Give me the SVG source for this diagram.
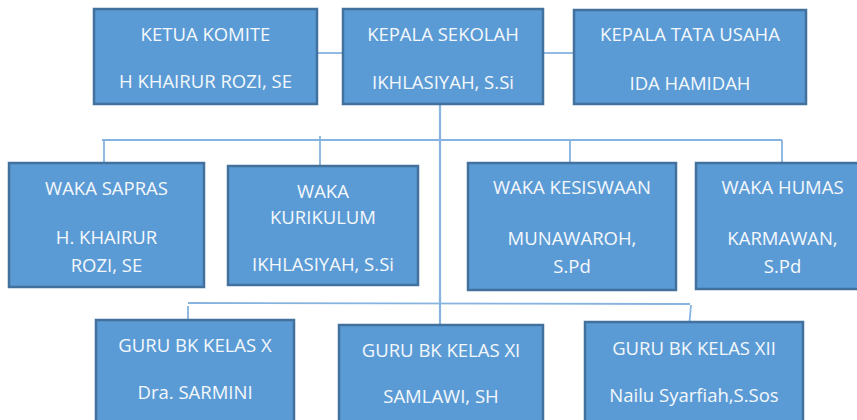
<svg xmlns="http://www.w3.org/2000/svg" width="857" height="420" viewBox="0 0 857 420">
<style>
.box{fill:#5B9BD5;stroke:#41719C;stroke-width:2.5}
.t{font-family:"Open Sans","Liberation Sans",sans-serif;font-size:18.5px;fill:#F4F8FC;text-anchor:middle}
.ln{stroke:#86B3E0;stroke-width:1.8;fill:none}
</style>
<rect width="857" height="420" fill="#FFFFFF"/>
<g id="connectors">
<line class="ln" x1="317" y1="53" x2="343" y2="53"/>
<line class="ln" x1="543" y1="53" x2="574" y2="53"/>
<line class="ln" x1="440" y1="104" x2="440" y2="325" style="stroke-width:2.2"/>
<line class="ln" x1="102" y1="140" x2="782" y2="140"/>
<line class="ln" x1="104" y1="140" x2="104" y2="163"/>
<line class="ln" x1="320" y1="136" x2="320" y2="166"/>
<line class="ln" x1="570" y1="140" x2="570" y2="163"/>
<line class="ln" x1="782" y1="140" x2="782" y2="163"/>
<line class="ln" x1="188" y1="303" x2="690" y2="304"/>
<line class="ln" x1="188" y1="306" x2="188" y2="320"/>
<line class="ln" x1="691" y1="305" x2="689.5" y2="322"/>
</g>
<g id="ketua-komite">
<rect class="box" x="94" y="9" width="223" height="95"/>
<text class="t" x="205.5" y="41">KETUA KOMITE</text>
<text class="t" x="205.5" y="88">H KHAIRUR ROZI, SE</text>
</g>
<g id="kepala-sekolah">
<rect class="box" x="343" y="9" width="200" height="95"/>
<text class="t" x="443" y="41">KEPALA SEKOLAH</text>
<text class="t" x="443" y="89">IKHLASIYAH, S.Si</text>
</g>
<g id="kepala-tata-usaha">
<rect class="box" x="574" y="10" width="232" height="94"/>
<text class="t" x="690" y="41">KEPALA TATA USAHA</text>
<text class="t" x="690" y="90">IDA HAMIDAH</text>
</g>
<g id="waka-sapras">
<rect class="box" x="9" y="163" width="195" height="124"/>
<text class="t" x="106.5" y="195">WAKA SAPRAS</text>
<text class="t" x="106.5" y="244">H. KHAIRUR</text>
<text class="t" x="106.5" y="272">ROZI, SE</text>
</g>
<g id="waka-kurikulum">
<rect class="box" x="228" y="166" width="190" height="119"/>
<text class="t" x="323" y="197.5">WAKA</text>
<text class="t" x="323" y="224">KURIKULUM</text>
<text class="t" x="323" y="271">IKHLASIYAH, S.Si</text>
</g>
<g id="waka-kesiswaan">
<rect class="box" x="468" y="163" width="208" height="127"/>
<text class="t" x="572" y="194">WAKA KESISWAAN</text>
<text class="t" x="572" y="245">MUNAWAROH,</text>
<text class="t" x="572" y="272.5">S.Pd</text>
</g>
<g id="waka-humas">
<rect class="box" x="696" y="163" width="173" height="126"/>
<text class="t" x="782.5" y="194">WAKA HUMAS</text>
<text class="t" x="782.5" y="245">KARMAWAN,</text>
<text class="t" x="782.5" y="272.5">S.Pd</text>
</g>
<g id="guru-bk-x">
<rect class="box" x="96" y="320" width="198" height="110"/>
<text class="t" x="195" y="351.5">GURU BK KELAS X</text>
<text class="t" x="195" y="399">Dra. SARMINI</text>
</g>
<g id="guru-bk-xi">
<rect class="box" x="339" y="325" width="204" height="105"/>
<text class="t" x="441" y="356.5">GURU BK KELAS XI</text>
<text class="t" x="441" y="403">SAMLAWI, SH</text>
</g>
<g id="guru-bk-xii">
<rect class="box" x="585" y="322" width="218" height="108"/>
<text class="t" x="694" y="355">GURU BK KELAS XII</text>
<text class="t" x="694" y="401.5">Nailu Syarfiah,S.Sos</text>
</g>
</svg>
